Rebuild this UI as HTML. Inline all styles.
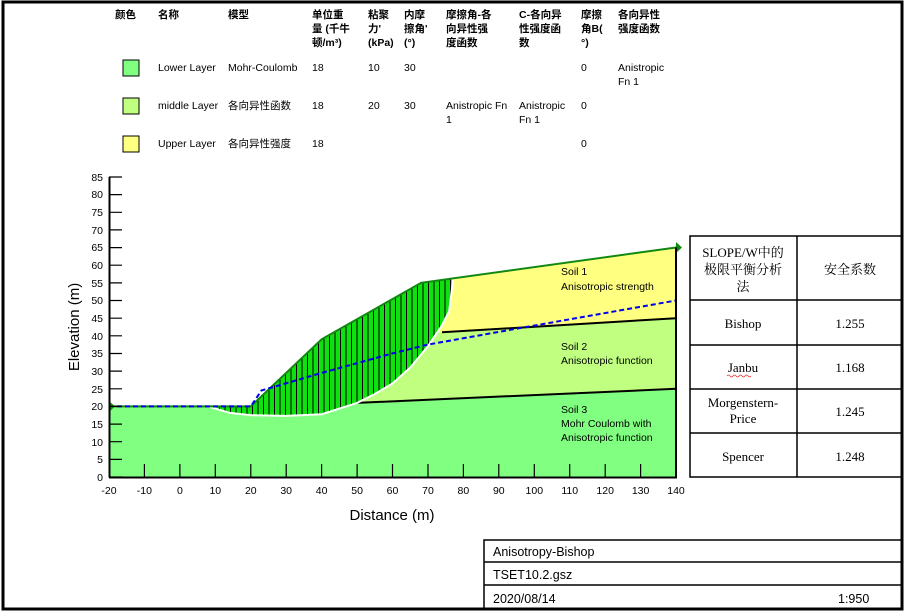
<!DOCTYPE html>
<html><head><meta charset="utf-8"><style>
body{margin:0;background:#fff;}
svg{display:block;font-family:"Liberation Sans","Noto Sans CJK SC",sans-serif;}
.h{font-size:10.5px;font-weight:bold;}
.t{font-size:10.5px;}
.ax{font-size:10.5px;}
.s{font-family:"Liberation Serif","Noto Serif CJK SC",serif;font-size:13px;}
</style></head><body>
<svg width="906" height="613" viewBox="0 0 906 613" xmlns="http://www.w3.org/2000/svg">
<rect x="3" y="2" width="899" height="607" fill="none" stroke="#000" stroke-width="3"/>
<g class="h">
<text x="115" y="18">颜色</text>
<text x="158" y="18">名称</text>
<text x="228" y="18">模型</text>
<text x="312" y="18">单位重</text><text x="312" y="32">量 (千牛</text><text x="312" y="46">顿/m³)</text>
<text x="368" y="18">粘聚</text><text x="368" y="32">力'</text><text x="368" y="46">(kPa)</text>
<text x="404" y="18">内摩</text><text x="404" y="32">擦角'</text><text x="404" y="46">(°)</text>
<text x="446" y="18">摩擦角-各</text><text x="446" y="32">向异性强</text><text x="446" y="46">度函数</text>
<text x="519" y="18">C-各向异</text><text x="519" y="32">性强度函</text><text x="519" y="46">数</text>
<text x="581" y="18">摩擦</text><text x="581" y="32">角B(</text><text x="581" y="46">°)</text>
<text x="618" y="18">各向异性</text><text x="618" y="32">强度函数</text>
</g>
<rect x="123" y="60" width="16" height="16" fill="#80FF80" stroke="#000"/>
<rect x="123" y="98" width="16" height="16" fill="#C0FF80" stroke="#000"/>
<rect x="123" y="136" width="16" height="16" fill="#FFFF80" stroke="#000"/>
<g class="t">
<text x="158" y="71">Lower Layer</text><text x="228" y="71">Mohr-Coulomb</text><text x="312" y="71">18</text><text x="368" y="71">10</text><text x="404" y="71">30</text><text x="581" y="71">0</text><text x="618" y="71">Anistropic</text><text x="618" y="85">Fn 1</text>
<text x="158" y="109">middle Layer</text><text x="228" y="109">各向异性函数</text><text x="312" y="109">18</text><text x="368" y="109">20</text><text x="404" y="109">30</text><text x="446" y="109">Anistropic Fn</text><text x="446" y="123">1</text><text x="519" y="109">Anistropic</text><text x="519" y="123">Fn 1</text><text x="581" y="109">0</text>
<text x="158" y="147">Upper Layer</text><text x="228" y="147">各向异性强度</text><text x="312" y="147">18</text><text x="581" y="147">0</text>
</g>
<polygon points="109,406.4 250.8,406.4 321.6,339.3 421.1,282.8 676,247.5 676,477 109,477" fill="#80FF80"/>
<polygon points="250.8,406.4 321.6,339.3 421.1,282.8 676,247.5 676,388.8 357.1,402.9" fill="#C0FF80"/>
<polygon points="334.5,332 421.1,282.8 676,247.5 676,318.2 442,332.3" fill="#FFFF80"/>
<line x1="357" y1="402.9" x2="676" y2="388.8" stroke="#000" stroke-width="2"/>
<line x1="442" y1="332.3" x2="676" y2="318.2" stroke="#000" stroke-width="2"/>
<defs><clipPath id="cm"><polygon points="208.2,406.4 250.8,406.4 321.6,339.3 421.1,282.8 452.7,278.4 452.7,282.8 449.2,311.1 442.1,325.2 427.9,346.4 410.2,367.6 392.5,383.5 374.8,394 357.1,402.9 321.8,414.2 286.2,415.9 250.8,415.2 229.5,412.8"/></clipPath></defs>
<polygon points="208.2,406.4 250.8,406.4 321.6,339.3 421.1,282.8 452.7,278.4 452.7,282.8 449.2,311.1 442.1,325.2 427.9,346.4 410.2,367.6 392.5,383.5 374.8,394 357.1,402.9 321.8,414.2 286.2,415.9 250.8,415.2 229.5,412.8" fill="#10E010"/>
<g clip-path="url(#cm)" stroke="#000" stroke-width="1">
<path d="M214,270V420M219.5,270V420M225,270V420M230.5,270V420M236,270V420M241.5,270V420M247,270V420M252.5,270V420M258,270V420M263.5,270V420M269,270V420M274.5,270V420M280,270V420M285.5,270V420M291,270V420M296.5,270V420M302,270V420M307.5,270V420M313,270V420M318.5,270V420M324,270V420M329.5,270V420M335,270V420M340.5,270V420M346,270V420M351.5,270V420M357,270V420M362.5,270V420M368,270V420M373.5,270V420M379,270V420M384.5,270V420M390,270V420M395.5,270V420M401,270V420M406.5,270V420M412,270V420M417.5,270V420M423,270V420M428.5,270V420M434,270V420M439.5,270V420M445,270V420M450.5,270V420"/>
</g>
<polyline points="208.2,406.4 229.5,412.8 250.8,415.2 286.2,415.9 321.8,414.2 357.1,402.9 374.8,394 392.5,383.5 410.2,367.6 427.9,346.4 442.1,325.2 449.2,311.1 452.7,282.8 452.7,278.4" fill="none" stroke="#fff" stroke-width="2"/>
<polyline points="109,406.4 250.8,406.4 321.6,339.3 421.1,282.8 676,247.5" fill="none" stroke="#118811" stroke-width="2"/>
<polyline points="109,406.4 250.8,406.4 261.4,390.5 321.6,372.9 392.5,353.4 427.9,344.6 516.6,328.7 676,300.5" fill="none" stroke="#0000EE" stroke-width="2" stroke-dasharray="5,3"/>
<polygon points="109,401 115,406.4 109,412" fill="#118811"/>
<polygon points="676,242 682,247.5 676,253" fill="#118811"/>
<line x1="676" y1="247.5" x2="676" y2="477" stroke="#000" stroke-width="2"/>
<line x1="109.5" y1="177" x2="109.5" y2="477.5" stroke="#000" stroke-width="2"/>
<line x1="109" y1="477.5" x2="677" y2="477.5" stroke="#000" stroke-width="2"/>
<g stroke="#000" stroke-width="1.2">
<path d="M109,477H122M109,459.4H122M109,441.7H122M109,424.1H122M109,406.4H122M109,388.8H122M109,371.1H122M109,353.5H122M109,335.8H122M109,318.2H122M109,300.5H122M109,282.9H122M109,265.2H122M109,247.6H122M109,229.9H122M109,212.3H122M109,194.6H122M109,177H122"/>
<path d="M144.4,477V464M179.9,477V464M215.3,477V464M250.8,477V464M286.2,477V464M321.6,477V464M357.1,477V464M392.5,477V464M428,477V464M463.4,477V464M498.8,477V464M534.3,477V464M569.7,477V464M605.2,477V464M640.6,477V464"/>
</g>
<g class="ax" text-anchor="end">
<text x="103" y="481">0</text><text x="103" y="463">5</text><text x="103" y="446">10</text><text x="103" y="428">15</text><text x="103" y="410">20</text><text x="103" y="393">25</text><text x="103" y="375">30</text><text x="103" y="357">35</text><text x="103" y="340">40</text><text x="103" y="322">45</text><text x="103" y="304">50</text><text x="103" y="287">55</text><text x="103" y="269">60</text><text x="103" y="251">65</text><text x="103" y="234">70</text><text x="103" y="216">75</text><text x="103" y="198">80</text><text x="103" y="181">85</text>
</g>
<g class="ax" text-anchor="middle">
<text x="109" y="494">-20</text><text x="144.4" y="494">-10</text><text x="179.9" y="494">0</text><text x="215.3" y="494">10</text><text x="250.8" y="494">20</text><text x="286.2" y="494">30</text><text x="321.6" y="494">40</text><text x="357.1" y="494">50</text><text x="392.5" y="494">60</text><text x="428" y="494">70</text><text x="463.4" y="494">80</text><text x="498.8" y="494">90</text><text x="534.3" y="494">100</text><text x="569.7" y="494">110</text><text x="605.2" y="494">120</text><text x="640.6" y="494">130</text><text x="676" y="494">140</text>
</g>
<text x="392" y="520" font-size="15" text-anchor="middle">Distance (m)</text>
<text transform="translate(79,327) rotate(-90)" font-size="15" text-anchor="middle">Elevation (m)</text>
<g class="t">
<text x="561" y="275">Soil 1</text><text x="561" y="290">Anisotropic strength</text>
<text x="561" y="350">Soil 2</text><text x="561" y="364">Anisotropic function</text>
<text x="561" y="413">Soil 3</text><text x="561" y="427">Mohr Coulomb with</text><text x="561" y="441">Anisotropic function</text>
</g>
<g stroke="#000" stroke-width="1.5" fill="none">
<rect x="690" y="236" width="212" height="241"/>
<line x1="797" y1="236" x2="797" y2="477"/>
<line x1="690" y1="300" x2="902" y2="300"/><line x1="690" y1="345" x2="902" y2="345"/><line x1="690" y1="389" x2="902" y2="389"/><line x1="690" y1="433" x2="902" y2="433"/>
</g>
<g class="s" text-anchor="middle">
<text x="743" y="257">SLOPE/W中的</text><text x="743" y="274">极限平衡分析</text><text x="743" y="291">法</text>
<text x="850" y="274">安全系数</text>
<text x="743" y="328">Bishop</text><text x="850" y="328">1.255</text>
<text x="743" y="372">Janbu</text><text x="850" y="372">1.168</text>
<text x="743" y="407">Morgenstern-</text><text x="743" y="423">Price</text><text x="850" y="416">1.245</text>
<text x="743" y="461">Spencer</text><text x="850" y="461">1.248</text>
</g>
<path d="M727,376 q1.5,-2 3,0 t3,0 t3,0 t3,0 t3,0 t3,0 t3,0 t3,0" fill="none" stroke="#e33" stroke-width="0.8"/>
<g stroke="#000" stroke-width="1.5" fill="none">
<rect x="484" y="540" width="418" height="69"/>
<line x1="484" y1="562" x2="902" y2="562"/><line x1="484" y1="585" x2="902" y2="585"/>
</g>
<g font-size="12.5">
<text x="493" y="556">Anisotropy-Bishop</text>
<text x="493" y="579">TSET10.2.gsz</text>
<text x="493" y="603">2020/08/14</text>
<text x="838" y="603">1:950</text>
</g>
</svg>
</body></html>
